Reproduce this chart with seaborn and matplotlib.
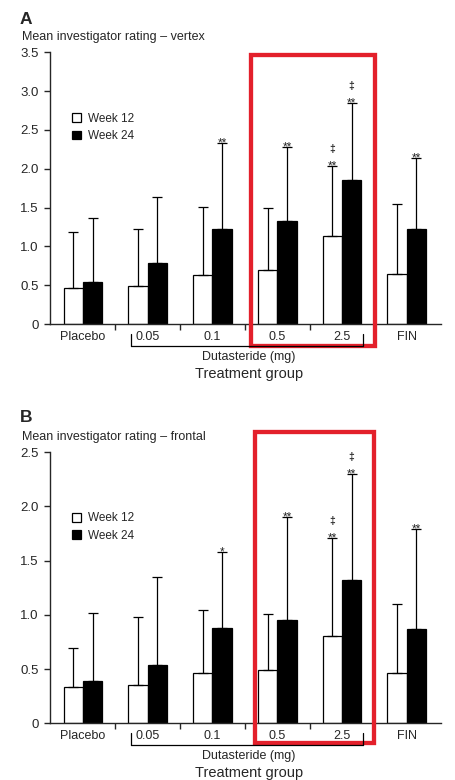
import numpy as np
import pandas as pd
import seaborn as sns
import matplotlib
matplotlib.use("Agg")
import matplotlib.pyplot as plt
from matplotlib.patches import Patch, Rectangle
from matplotlib.lines import Line2D

# data
groups = ['Placebo', '0.05', '0.1', '0.5', '2.5', 'FIN']
weeks = ['Week 12', 'Week 24']

vertex_wk12 = [0.46, 0.49, 0.63, 0.69, 1.13, 0.65]
vertex_wk12_sd = [0.72, 0.73, 0.88, 0.81, 0.91, 0.89]
vertex_wk24 = [0.54, 0.78, 1.23, 1.33, 1.85, 1.22]
vertex_wk24_sd = [0.83, 0.85, 1.10, 0.95, 1.00, 0.92]

frontal_wk12 = [0.33, 0.35, 0.46, 0.49, 0.80, 0.46]
frontal_wk12_sd = [0.36, 0.63, 0.58, 0.52, 0.91, 0.64]
frontal_wk24 = [0.39, 0.54, 0.88, 0.95, 1.32, 0.87]
frontal_wk24_sd = [0.63, 0.81, 0.70, 0.95, 0.98, 0.92]

vertex_sig_wk12 = ['', '', '', '', '**', '']
vertex_sig_wk24 = ['', '', '**', '**', '**', '**']
frontal_sig_wk12 = ['', '', '', '', '**', '']
frontal_sig_wk24 = ['', '', '*', '**', '**', '**']
dagger_wk12 = ['', '', '', '', '\u2021', '']
dagger_wk24 = ['', '', '', '', '\u2021', '']

vertex_yticks = [0, 0.5, 1.0, 1.5, 2.0, 2.5, 3.0, 3.5]
frontal_yticks = [0, 0.5, 1.0, 1.5, 2.0, 2.5]

W, H = 455, 780
RED = '#e3202b'

sns.set_style("ticks")
plt.rcParams['font.family'] = ['Liberation Sans', 'DejaVu Sans']
plt.rcParams['axes.linewidth'] = 1.0


def fx(x):
    return x / W


def fy(y):
    return 1 - y / H


def draw_panel(ax, wk12, sd12, wk24, sd24, sig12, sig24, yticks):
    df = pd.DataFrame({
        'group': groups * 2,
        'week': [weeks[0]] * len(groups) + [weeks[1]] * len(groups),
        'rating': wk12 + wk24,
    })
    sns.barplot(data=df, x='group', y='rating', hue='week', order=groups,
                palette=['white', 'black'], edgecolor='black', linewidth=0.9,
                width=0.6, errorbar=None, legend=False, ax=ax)

    series = [(wk12, sd12, sig12, dagger_wk12), (wk24, sd24, sig24, dagger_wk24)]
    for cont, (vals, sds, sigs, dags) in zip(ax.containers, series):
        xs = [p.get_x() + p.get_width() / 2 for p in cont.patches]
        ax.errorbar(xs, vals, yerr=[np.zeros(len(vals)), sds], fmt='none',
                    ecolor='black', elinewidth=0.9, capsize=3.5, capthick=0.9)
        for x, v, s, sig, dag in zip(xs, vals, sds, sigs, dags):
            if sig:
                ax.annotate(sig, (x, v + s), xytext=(0, -2.5), textcoords='offset points',
                            ha='center', va='baseline', fontsize=8.5)
            if dag:
                ax.annotate(dag, (x, v + s), xytext=(0, 10), textcoords='offset points',
                            ha='center', va='baseline', fontsize=7.5, fontweight='bold')

    ax.set_xlim(-0.51, 5.53)
    ax.set_ylim(0, yticks[-1])
    ax.set_yticks(yticks)
    ax.set_yticklabels(['0'] + ['%.1f' % t for t in yticks[1:]])
    ax.set_xticks(range(len(groups)))
    ax.set_xticklabels(groups)
    ax.set_xticks(np.arange(0.5, len(groups) - 1, 1.0), minor=True)
    ax.tick_params(axis='x', which='major', length=0, pad=5, labelsize=9)
    ax.tick_params(axis='x', which='minor', length=4, width=1, direction='out')
    ax.tick_params(axis='y', length=4, width=1, pad=4, labelsize=9.5)
    ax.set_xlabel('')
    ax.set_ylabel('')
    sns.despine(ax=ax)

    handles = [Patch(facecolor='white', edgecolor='black', linewidth=0.9),
               Patch(facecolor='black', edgecolor='black', linewidth=0.9)]
    ax.legend(handles, weeks, loc='upper left', bbox_to_anchor=(0.045, 0.795),
              frameon=False, fontsize=8.5, handlelength=0.75, handleheight=0.75,
              handletextpad=0.6, labelspacing=0.45, borderaxespad=0)


fig = plt.figure(figsize=(W / 100, H / 100), dpi=100)
ax_a = fig.add_axes([fx(50), fy(324), fx(441) - fx(50), fy(52.3) - fy(324)])
ax_b = fig.add_axes([fx(50), fy(723.3), fx(441) - fx(50), fy(452) - fy(723.3)])

draw_panel(ax_a, vertex_wk12, vertex_wk12_sd, vertex_wk24, vertex_wk24_sd,
           vertex_sig_wk12, vertex_sig_wk24, vertex_yticks)
draw_panel(ax_b, frontal_wk12, frontal_wk12_sd, frontal_wk24, frontal_wk24_sd,
           frontal_sig_wk12, frontal_sig_wk24, frontal_yticks)

# panel letters, titles and group labels
for letter, ly, title, ty, base in [('A', 19.5, 'Mean investigator rating \u2013 vertex', 36.7, 324),
                                    ('B', 417.7, 'Mean investigator rating \u2013 frontal', 436.7, 723.3)]:
    fig.text(fx(20), fy(ly), letter, fontsize=12.5, fontweight='bold', va='center', ha='left')
    fig.text(fx(22), fy(ty), title, fontsize=9, va='center', ha='left')
    # dutasteride bracket
    for xs, ys in [([130.7, 130.7], [base + 9.5, base + 22]),
                   ([130.7, 363.3], [base + 22, base + 22]),
                   ([363.3, 363.3], [base + 9.5, base + 22])]:
        fig.add_artist(Line2D([fx(x) for x in xs], [fy(y) for y in ys], color='black', lw=0.9))
    fig.text(fx(249), fy(base + 33), 'Dutasteride (mg)', fontsize=9, ha='center', va='center')
    fig.text(fx(249), fy(base + 50), 'Treatment group', fontsize=10.5, ha='center', va='center')

# red highlight boxes
for l, r, t, b in [(251, 374.5, 54.5, 345.5), (254.5, 374, 431.5, 743)]:
    fig.add_artist(Rectangle((fx(l), fy(b)), fx(r) - fx(l), fy(t) - fy(b), fill=False,
                             edgecolor=RED, linewidth=3.1, transform=fig.transFigure))

fig.savefig('out.png', dpi=100)
